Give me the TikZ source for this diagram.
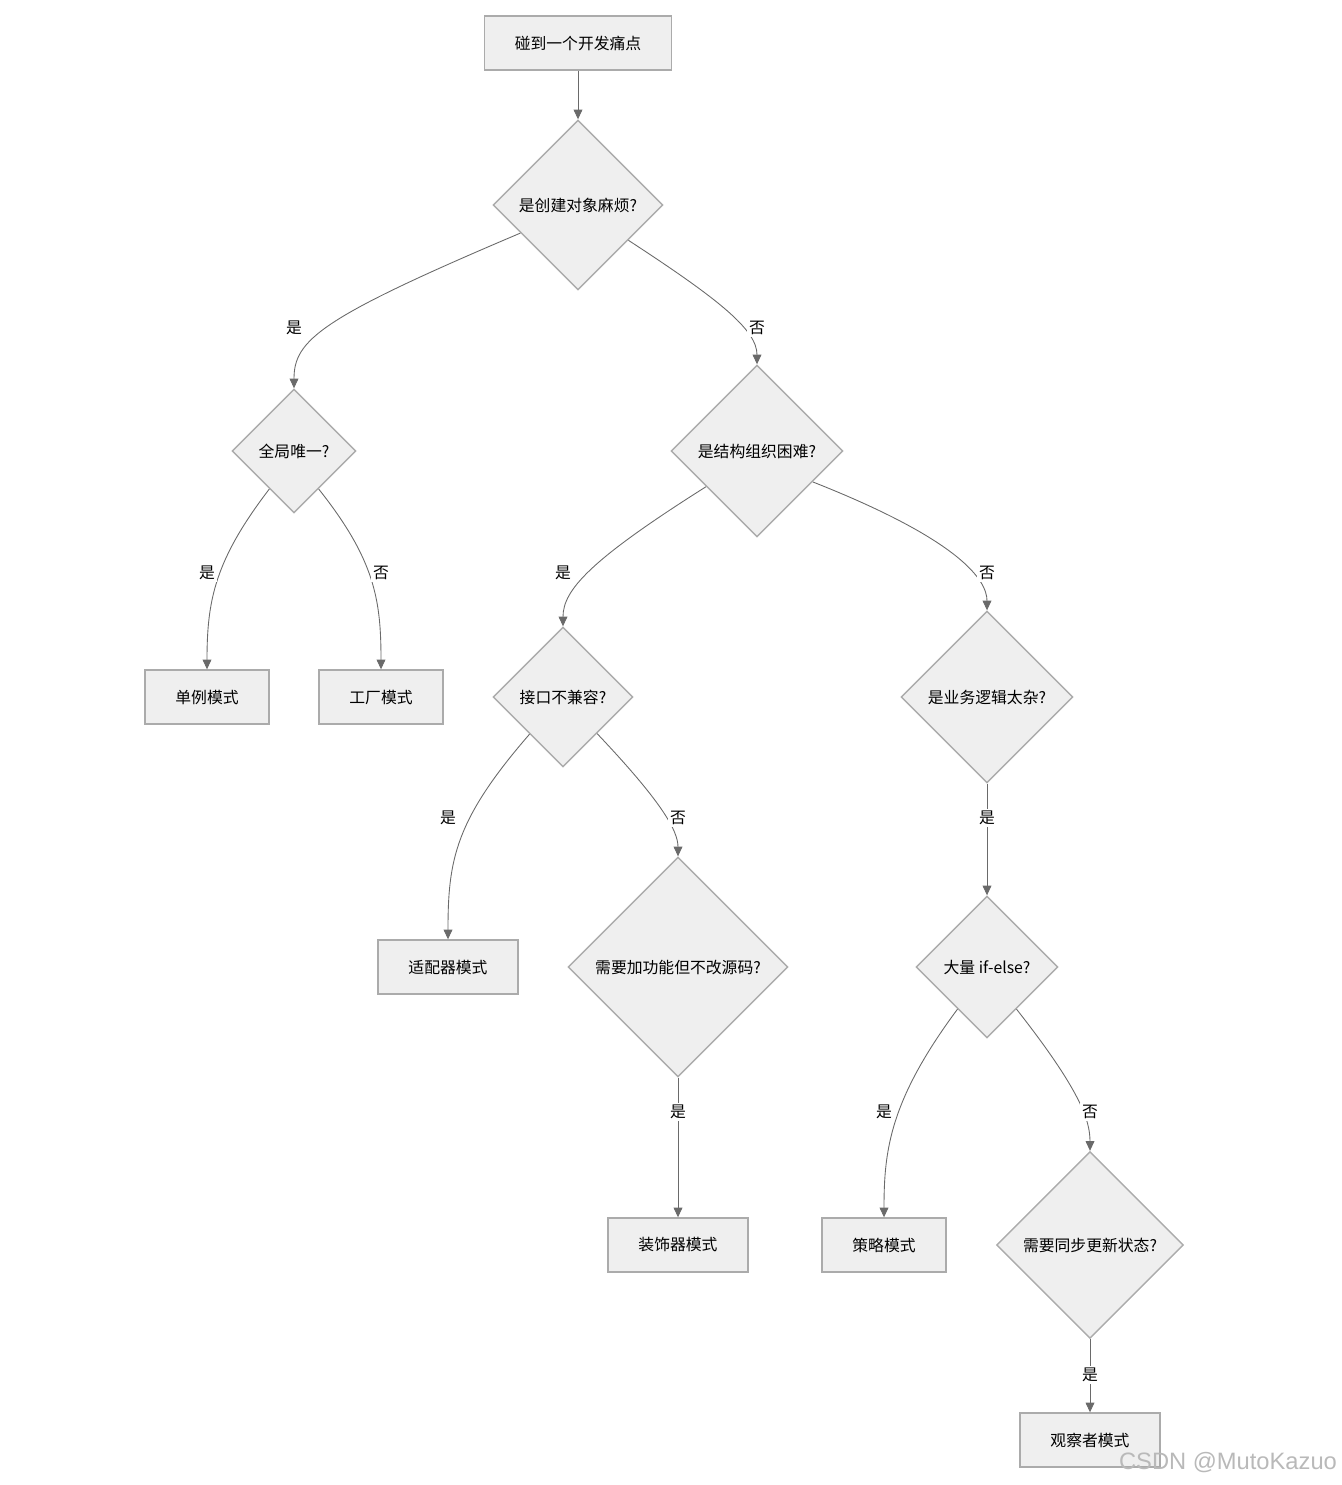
\documentclass[tikz,border=0pt]{standalone}
\usepackage{fontspec}
\setmainfont{Noto Sans CJK SC}
\newfontfamily\wmfont{Liberation Sans}
\usetikzlibrary{shapes.geometric,arrows.meta}
\definecolor{nodefill}{HTML}{EFEFEF}
\definecolor{nodeline}{HTML}{ABABAB}
\definecolor{edgeline}{HTML}{6A6A6A}
\tikzset{
  base/.style={fill=nodefill,draw=nodeline,line width=0.8pt,font=\fontsize{9pt}{11pt}\selectfont,text=black,inner sep=0pt},
  rectbox/.style={base,rectangle,minimum height=1.08cm},
  decbox/.style={base,diamond,aspect=1},
  conn/.style={draw=edgeline,line width=0.5pt,-{Triangle[length=5.5pt,width=5pt]},fill=none},
  elab/.style={fill=white,inner sep=1pt,font=\fontsize{9pt}{11pt}\selectfont,text=black},
}
\begin{document}
\begin{tikzpicture}[x=0.02cm,y=-0.02cm]
\useasboundingbox (0,0) rectangle (1342,1485);
% nodes
\node[rectbox,minimum width=3.74cm] (start) at (578,43) {碰到一个开发痛点};
\node[decbox,minimum size=3.4cm] (d1) at (578,205) {是创建对象麻烦?};
\node[decbox,minimum size=2.48cm] (d2) at (294,451) {全局唯一?};
\node[decbox,minimum size=3.44cm] (d3) at (757,451) {是结构组织困难?};
\node[rectbox,minimum width=2.48cm] (single) at (207,697) {单例模式};
\node[rectbox,minimum width=2.48cm] (factory) at (381,697) {工厂模式};
\node[decbox,minimum size=2.8cm] (d4) at (563,697) {接口不兼容?};
\node[decbox,minimum size=3.44cm] (d5) at (987,697) {是业务逻辑太杂?};
\node[rectbox,minimum width=2.8cm] (adapter) at (448,967) {适配器模式};
\node[decbox,minimum size=4.4cm] (d6) at (678,967) {需要加功能但不改源码?};
\node[decbox,minimum size=2.84cm] (d7) at (987,967) {大量 if-else?};
\node[rectbox,minimum width=2.8cm] (decor) at (678,1245) {装饰器模式};
\node[rectbox,minimum width=2.48cm] (strategy) at (884,1245) {策略模式};
\node[decbox,minimum size=3.74cm] (d8) at (1090,1245) {需要同步更新状态?};
\node[rectbox,minimum width=2.8cm] (observer) at (1090,1440) {观察者模式};
% edges
\draw[conn] (start) -- (d1);
\draw[conn] (d1.206) .. controls (320,318) and (294,340) .. (d2.north);
\draw[conn] (d1.325) .. controls (720,300) and (757,330) .. (d3.north);
\draw[conn] (d2.237) .. controls (215,560) and (207,600) .. (single.north);
\draw[conn] (d2.303) .. controls (375,560) and (381,600) .. (factory.north);
\draw[conn] (d3.215) .. controls (590,560) and (563,590) .. (d4.north);
\draw[conn] (d3.331) .. controls (960,540) and (987,580) .. (d5.north);
\draw[conn] (d4.228) .. controls (455,820) and (448,860) .. (adapter.north);
\draw[conn] (d4.313) .. controls (660,800) and (678,830) .. (d6.north);
\draw[conn] (d5.south) -- (d7.north);
\draw[conn] (d6.south) -- (decor.north);
\draw[conn] (d7.235) .. controls (890,1100) and (884,1150) .. (strategy.north);
\draw[conn] (d7.305) .. controls (1080,1090) and (1090,1120) .. (d8.north);
\draw[conn] (d8.south) -- (observer.north);
% edge labels
\node[elab] (l1) at (294,328) {是};
\node[elab] (l2) at (757,328) {否};
\node[elab] (l3) at (207,573) {是};
\node[elab] (l4) at (381,573) {否};
\node[elab] (l5) at (563,573) {是};
\node[elab] (l6) at (987,573) {否};
\node[elab] (l7) at (448,818) {是};
\node[elab] (l8) at (678,818) {否};
\node[elab] (l9) at (987,818) {是};
\node[elab] (l10) at (678,1112) {是};
\node[elab] (l11) at (884,1112) {是};
\node[elab] (l12) at (1090,1112) {否};
\node[elab] (l13) at (1090,1375) {是};
% watermark
\node[font=\wmfont\fontsize{13.5pt}{15pt}\selectfont,text=gray!55,inner sep=0pt] (wm) at (1228,1463) {CSDN @MutoKazuo};
\end{tikzpicture}
\end{document}
